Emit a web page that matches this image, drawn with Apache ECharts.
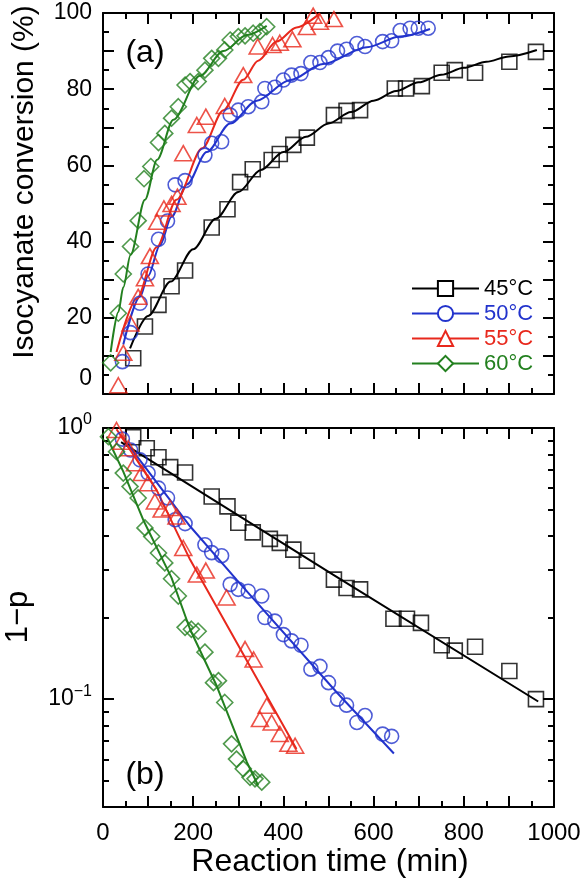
<!DOCTYPE html>
<html><head><meta charset="utf-8">
<script src="https://cdn.jsdelivr.net/npm/echarts@6/dist/echarts.min.js"></script>
<style>html,body{margin:0;padding:0;background:#fff}#c{width:583px;height:890px}</style>
</head><body><div id="c"></div>
<script>
// ---------- data ----------
const seriesNames = ['45°C', '50°C', '55°C', '60°C'];
const xTicksLabelled = [0, 200, 400, 600, 800, 1000];
const logMajorTicks = [0.1, 1];
const logMinorTicks = [0.05, 0.06, 0.07, 0.08, 0.09, 0.2, 0.3, 0.4, 0.5, 0.6, 0.7, 0.8, 0.9];

// (a) isocyanate conversion (%) vs time (min)
const conv45 = [[67,9.4],[93,17.7],[123,23.4],[152,28.3],[182,32.4],[241,43.7],[276,48.5],[304,55.6],[332,59.0],[374,61.4],[392,63.0],[422,65.4],[452,67.3],[512,73.2],[540,74.3],[570,74.5],[647,80.2],[672,80.2],[707,80.8],[751,84.3],[780,85.0],[825,84.3],[901,87.2],[960,89.8]];
const conv50 = [[43,8.5],[61,16.1],[82,23.8],[100,31.5],[123,40.6],[143,45.4],[160,54.9],[182,56.0],[226,62.7],[241,65.8],[263,66.2],[282,73.2],[300,74.5],[322,75.4],[352,76.7],[359,80.2],[381,80.5],[400,82.4],[418,83.7],[439,84.1],[461,87.0],[481,87.0],[500,88.3],[520,90.0],[540,90.5],[563,92.0],[581,91.2],[620,92.5],[640,92.7],[659,95.4],[681,96.0],[699,96.0],[721,96.0]];
const conv55 = [[34,2.3],[45,10.8],[61,18.5],[78,25.5],[93,30.4],[104,36.2],[120,45.2],[135,48.7],[152,49.9],[165,51.8],[178,63.2],[208,70.6],[228,72.8],[270,75.6],[311,83.7],[343,91.2],[376,91.6],[392,92.2],[420,93.1],[452,96.3],[466,99.3],[481,97.7],[512,98.4]];
const conv60 = [[17,8.2],[34,21.2],[45,31.5],[61,38.7],[78,45.5],[91,56.5],[106,59.7],[123,66.0],[137,68.4],[152,72.4],[167,75.4],[182,81.1],[193,82.0],[211,82.0],[226,85.0],[241,88.1],[256,88.1],[270,90.3],[282,92.9],[300,93.8],[315,94.0],[333,94.7],[348,95.1],[363,96.4]];

// (a) fitted curves
const fit45a = [[60,12],[100,20.5],[150,29.5],[200,38],[250,46],[300,53],[350,58.8],[400,63.5],[450,67.5],[500,71],[550,74],[600,77],[650,79.5],[700,81.8],[750,83.8],[800,85.6],[850,87.2],[900,88.6],[962,90.3]];
const fit50a = [[45,13],[82,25.5],[100,31],[126,39],[152,46.5],[186,55],[230,63.5],[282,71],[341,77],[415,82.4],[488,86.6],[585,91],[659,93.8],[725,95.8]];
const fit55a = [[30,11],[75,25],[119,38.5],[163,51],[220,64.5],[267,74.5],[311,82.5],[344,87.5],[385,92.5],[429,96.2],[481,99.9]];
const fit60a = [[17,11],[34,21.5],[45,28],[61,36.5],[93,51],[120,61.5],[156,72],[215,83.5],[267,90],[319,94.2],[363,96.6]];

// (b) 1-p (log scale) vs time (min)
const rem45 = [[67,0.924],[97,0.842],[123,0.780],[149,0.717],[182,0.685],[241,0.559],[276,0.514],[300,0.447],[332,0.412],[370,0.390],[392,0.377],[422,0.356],[452,0.324],[512,0.276],[540,0.257],[570,0.254],[644,0.198],[674,0.198],[705,0.191],[751,0.158],[780,0.151],[825,0.156],[901,0.127],[960,0.100]];
const rem50 = [[43,0.91],[61,0.83],[82,0.763],[100,0.682],[123,0.60],[143,0.552],[160,0.459],[182,0.444],[226,0.371],[241,0.347],[263,0.338],[282,0.265],[300,0.254],[322,0.250],[352,0.240],[359,0.200],[381,0.194],[400,0.173],[418,0.164],[439,0.158],[461,0.129],[481,0.132],[500,0.115],[520,0.100],[540,0.095],[563,0.082],[581,0.087],[620,0.0743],[640,0.0729]];
const rem55 = [[30,0.983],[41,0.89],[56,0.842],[71,0.742],[86,0.682],[100,0.626],[115,0.536],[130,0.50],[149,0.507],[163,0.472],[178,0.361],[208,0.288],[228,0.298],[274,0.237],[315,0.153],[334,0.140],[348,0.0844],[363,0.0945],[374,0.082],[392,0.0744],[411,0.0684],[426,0.0673]];
const rem60 = [[12,0.929],[30,0.818],[45,0.682],[60,0.608],[78,0.552],[93,0.428],[108,0.398],[123,0.346],[137,0.318],[152,0.278],[167,0.24],[182,0.184],[196,0.181],[211,0.178],[226,0.149],[245,0.115],[256,0.117],[270,0.0972],[285,0.0684],[296,0.0601],[311,0.0553],[326,0.0515],[337,0.0508],[352,0.0494]];

// (b) fitted lines
const fit45b = [[40,0.887],[510,0.288],[965,0.098]];
const fit50b = [[40,0.94],[193,0.434],[296,0.276],[518,0.106],[645,0.063]];
const fit55b = [[30,0.99],[119,0.59],[193,0.327],[429,0.0655]];
const fit60b = [[8,0.93],[45,0.69],[89,0.459],[152,0.28],[193,0.181],[252,0.112],[319,0.0585],[344,0.048]];

// ---------- styling ----------
const FF = '"Liberation Sans", Arial, Helvetica, sans-serif';
const colors = ['#000000', '#2233cc', '#e8281c', '#23801f'];
const symbols = ['rect', 'circle', 'triangle', 'diamond'];
const symSizes = [15, 14, [17, 15], 16];

const convData = [conv45, conv50, conv55, conv60];
const fitA = [fit45a, fit50a, fit55a, fit60a];
const remData = [rem45, rem50, rem55, rem60];
const fitB = [fit45b, fit50b, fit55b, fit60b];

const black = {color: '#000', width: 2};
function xAxis(grid, pos, showLabels) {
  return {
    type: 'value', gridIndex: grid, position: pos, min: 0, max: 1000, interval: 100,
    axisLine: {show: true, onZero: false, lineStyle: black},
    axisTick: {show: true, inside: true, length: 11, lineStyle: black},
    minorTick: {show: true, splitNumber: 2, length: 6, lineStyle: black},
    splitLine: {show: false}, minorSplitLine: {show: false},
    axisLabel: {
      show: showLabels, margin: 14, color: '#000', fontSize: 24, fontFamily: FF,
      formatter: v => (xTicksLabelled.indexOf(v) >= 0 ? String(v) : '')
    }
  };
}
function yLinAxis(pos, showLabels) {
  return {
    type: 'value', gridIndex: 0, position: pos, min: 0, max: 100, interval: 10,
    axisLine: {show: true, onZero: false, lineStyle: black},
    axisTick: {show: true, inside: true, length: 11, lineStyle: black},
    minorTick: {show: true, splitNumber: 2, length: 6, lineStyle: black},
    splitLine: {show: false}, minorSplitLine: {show: false},
    axisLabel: {
      show: showLabels, margin: 11, color: '#000', fontSize: 23, fontFamily: FF,
      formatter: v => (v % 20 === 0 ? (v === 0 ? '{z|0}' : String(v)) : ''),
      rich: {z: {fontSize: 23, fontFamily: FF, color: '#000', padding: [0, 0, 30, 0]}}
    }
  };
}
function yLogAxis(pos, showLabels, minor) {
  return {
    type: 'log', logBase: 10, gridIndex: 1, position: pos, min: 0.04, max: 1,
    axisLine: {show: !minor, onZero: false, lineStyle: black},
    axisTick: {show: true, inside: true, length: minor ? 6 : 11, lineStyle: black,
               customValues: minor ? logMinorTicks : logMajorTicks},
    splitLine: {show: false},
    axisLabel: {
      show: showLabels, margin: 11, color: '#000', fontSize: 23, fontFamily: FF,
      customValues: logMajorTicks,
      formatter: v => (Math.abs(v - 1) < 1e-6 ? '10{s|0}' : '10{s|\u22121}'),
      rich: {s: {fontSize: 16, fontFamily: FF, color: '#000', padding: [0, 0, 16, 0]}}
    }
  };
}

const series = [];
// fitted lines first (they carry the legend icon)
for (let i = 0; i < 4; i++) {
  [[fitA[i], 0, 0, true], [fitB[i], 2, 2, false]].forEach(([d, xi, yi, sm]) => {
    series.push({
      type: 'line', name: seriesNames[i], data: d, xAxisIndex: xi, yAxisIndex: yi,
      symbol: 'empty' + symbols[i].charAt(0).toUpperCase() + symbols[i].slice(1),
      showSymbol: false, smooth: sm ? 0.3 : false, smoothMonotone: 'x',
      lineStyle: {color: colors[i], width: 2}, itemStyle: {color: colors[i]},
      emphasis: {disabled: true}, z: 2
    });
  });
}
for (let i = 0; i < 4; i++) {
  [[convData[i], 0, 0], [remData[i], 2, 2]].forEach(([d, xi, yi]) => {
    series.push({
      type: 'scatter', name: seriesNames[i], data: d, xAxisIndex: xi, yAxisIndex: yi,
      symbol: symbols[i], symbolSize: symSizes[i],
      itemStyle: {color: 'rgba(255,255,255,0)', borderColor: colors[i], borderWidth: 1.6},
      emphasis: {disabled: true}, z: 3
    });
  });
}

const chart = echarts.init(document.getElementById('c'), null, {renderer: 'canvas'});
chart.setOption({
  animation: false,
  backgroundColor: '#fff',
  grid: [
    {left: 103, top: 13, width: 451, height: 381, containLabel: false, outerBoundsMode: 'none'},
    {left: 103, top: 428, width: 451, height: 379, containLabel: false, outerBoundsMode: 'none'}
  ],
  xAxis: [xAxis(0, 'bottom', false), xAxis(0, 'top', false), xAxis(1, 'bottom', true), xAxis(1, 'top', false)],
  yAxis: [yLinAxis('left', true), yLinAxis('right', false),
          yLogAxis('left', true, false), yLogAxis('right', false, false),
          yLogAxis('left', false, true), yLogAxis('right', false, true)],
  legend: {
    orient: 'vertical', left: 406, top: 271, itemWidth: 67, itemHeight: 19, itemGap: 0,
    textStyle: {fontSize: 22, fontFamily: FF, lineHeight: 25},
    data: seriesNames.map((n, i) => ({name: n, textStyle: {color: colors[i], fontSize: 22, fontFamily: FF, lineHeight: 25}}))
  },
  graphic: [
    {type: 'text', x: 145, y: 53, style: {text: '(a)', font: '32px ' + FF, fill: '#000', align: 'center', verticalAlign: 'middle'}},
    {type: 'text', x: 145, y: 775, style: {text: '(b)', font: '32px ' + FF, fill: '#000', align: 'center', verticalAlign: 'middle'}},
    {type: 'text', x: 25, y: 182, rotation: Math.PI / 2, style: {text: 'Isocyanate conversion (%)', font: '30px ' + FF, fill: '#000', align: 'center', verticalAlign: 'middle'}},
    {type: 'text', x: 18, y: 617, rotation: Math.PI / 2, style: {text: '1\u2212p', font: '31px ' + FF, fill: '#000', align: 'center', verticalAlign: 'middle'}},
    {type: 'text', x: 330, y: 862, style: {text: 'Reaction time (min)', font: '32px ' + FF, fill: '#000', align: 'center', verticalAlign: 'middle'}}
  ],
  series: series
});
</script></body></html>
